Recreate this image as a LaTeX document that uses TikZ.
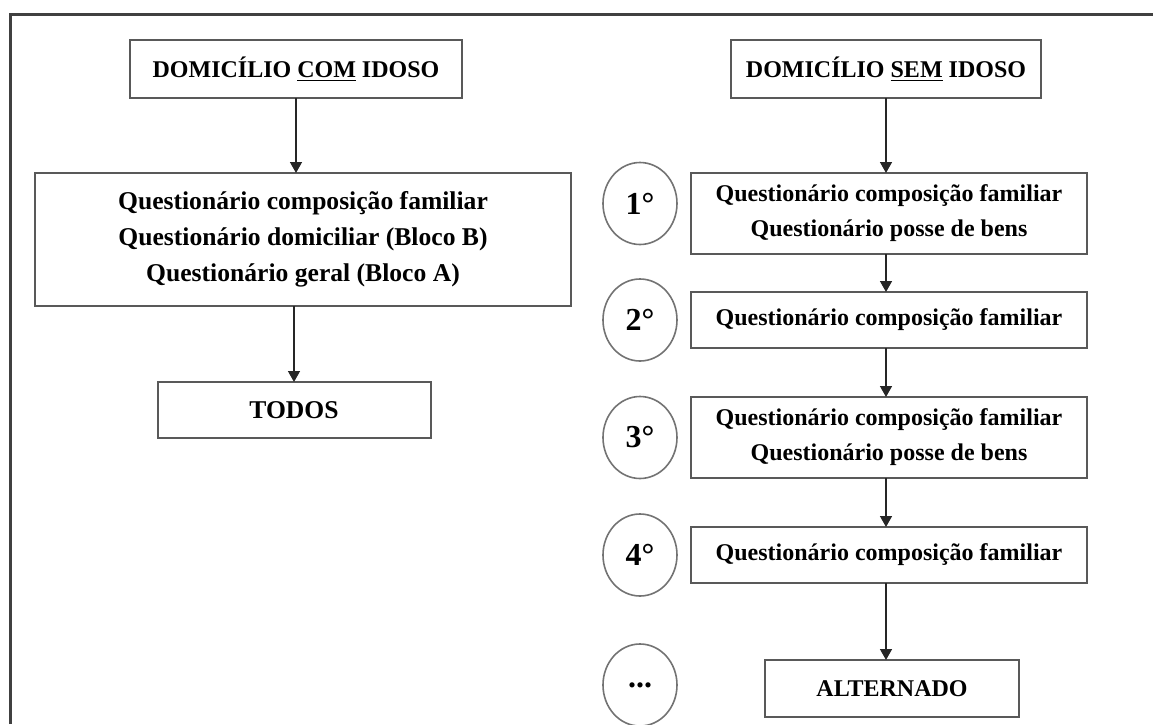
\documentclass[tikz,border=0pt]{standalone}
\usepackage{fontspec}
\setmainfont{Liberation Serif}
\usetikzlibrary{positioning,arrows.meta,shapes.geometric}
\tikzset{%
    box/.style={draw=black!65,line width=1pt,fill=white,align=center,inner sep=2pt,outer sep=0pt,
        font=\bfseries\fontsize{12}{17.5}\selectfont},
    bigbox/.style={box,font=\bfseries\fontsize{12.8}{18}\selectfont},
    turn/.style={ellipse,draw=black!55,line width=0.8pt,inner sep=0pt,outer sep=0pt,
        minimum width=37pt,minimum height=41pt,font=\bfseries\fontsize{16}{16}\selectfont},
    flow/.style={-{Triangle[width=6pt,length=5.5pt]},line width=0.75pt,black!85},
    frame/.style={line width=1.5pt,black!75},
}

\begin{document}
\begin{tikzpicture}[x=0.5pt,y=-0.5pt]
    \useasboundingbox (0,0) rectangle (1153,724);
    % frame
    \draw[frame] (10,724) -- (10,14) -- (1153,14);

    % with elderly
    \node[box,minimum width=166pt,minimum height=29pt] (comI) at (296,69) {DOMICÍLIO \underline{COM} IDOSO};
    \node[bigbox,minimum width=268pt,minimum height=66.5pt,below=37.5pt of comI,xshift=3.5pt] (comQ)
        {Questionário composição familiar\\Questionário domiciliar (Bloco B)\\Questionário geral (Bloco A)};
    \node[bigbox,minimum width=136.5pt,minimum height=28pt,below=38pt of comQ,xshift=-4.5pt] (todos) {TODOS};

    % without elderly
    \node[box,minimum width=155pt,minimum height=29pt] (semI) at (886,69) {DOMICÍLIO \underline{SEM} IDOSO};
    \node[box,minimum width=198pt,minimum height=40.5pt,below=37.5pt of semI,xshift=1.5pt] (q1)
        {Questionário composição familiar\\Questionário posse de bens};
    \node[box,minimum width=198pt,minimum height=28pt,below=19pt of q1] (q2) {Questionário composição familiar};
    \node[box,minimum width=198pt,minimum height=40.5pt,below=24.5pt of q2] (q3)
        {Questionário composição familiar\\Questionário posse de bens};
    \node[box,minimum width=198pt,minimum height=28pt,below=24.5pt of q3] (q4) {Questionário composição familiar};
    \node[box,minimum width=127pt,minimum height=28.5pt,below=38.5pt of q4,xshift=1.5pt] (alt) {ALTERNADO};

    % order of the visits
    \node[turn,left=7pt of q1,yshift=5pt] (t1) {1°};
    \node[turn,left=7pt of q2] (t2) {2°};
    \node[turn,left=7pt of q3] (t3) {3°};
    \node[turn,left=7pt of q4] (t4) {4°};
    \node[turn,below=24pt of t4] (t5) {...};

    % arrows
    \draw[flow] (comI.south) -- (comI.south |- comQ.north);
    \draw[flow] (comQ.south -| todos.north) -- (todos.north);
    \draw[flow] (semI.south) -- (semI.south |- q1.north);
    \draw[flow] (semI.south |- q1.south) -- (semI.south |- q2.north);
    \draw[flow] (semI.south |- q2.south) -- (semI.south |- q3.north);
    \draw[flow] (semI.south |- q3.south) -- (semI.south |- q4.north);
    \draw[flow] (semI.south |- q4.south) -- (semI.south |- alt.north);

\end{tikzpicture}
\end{document}
